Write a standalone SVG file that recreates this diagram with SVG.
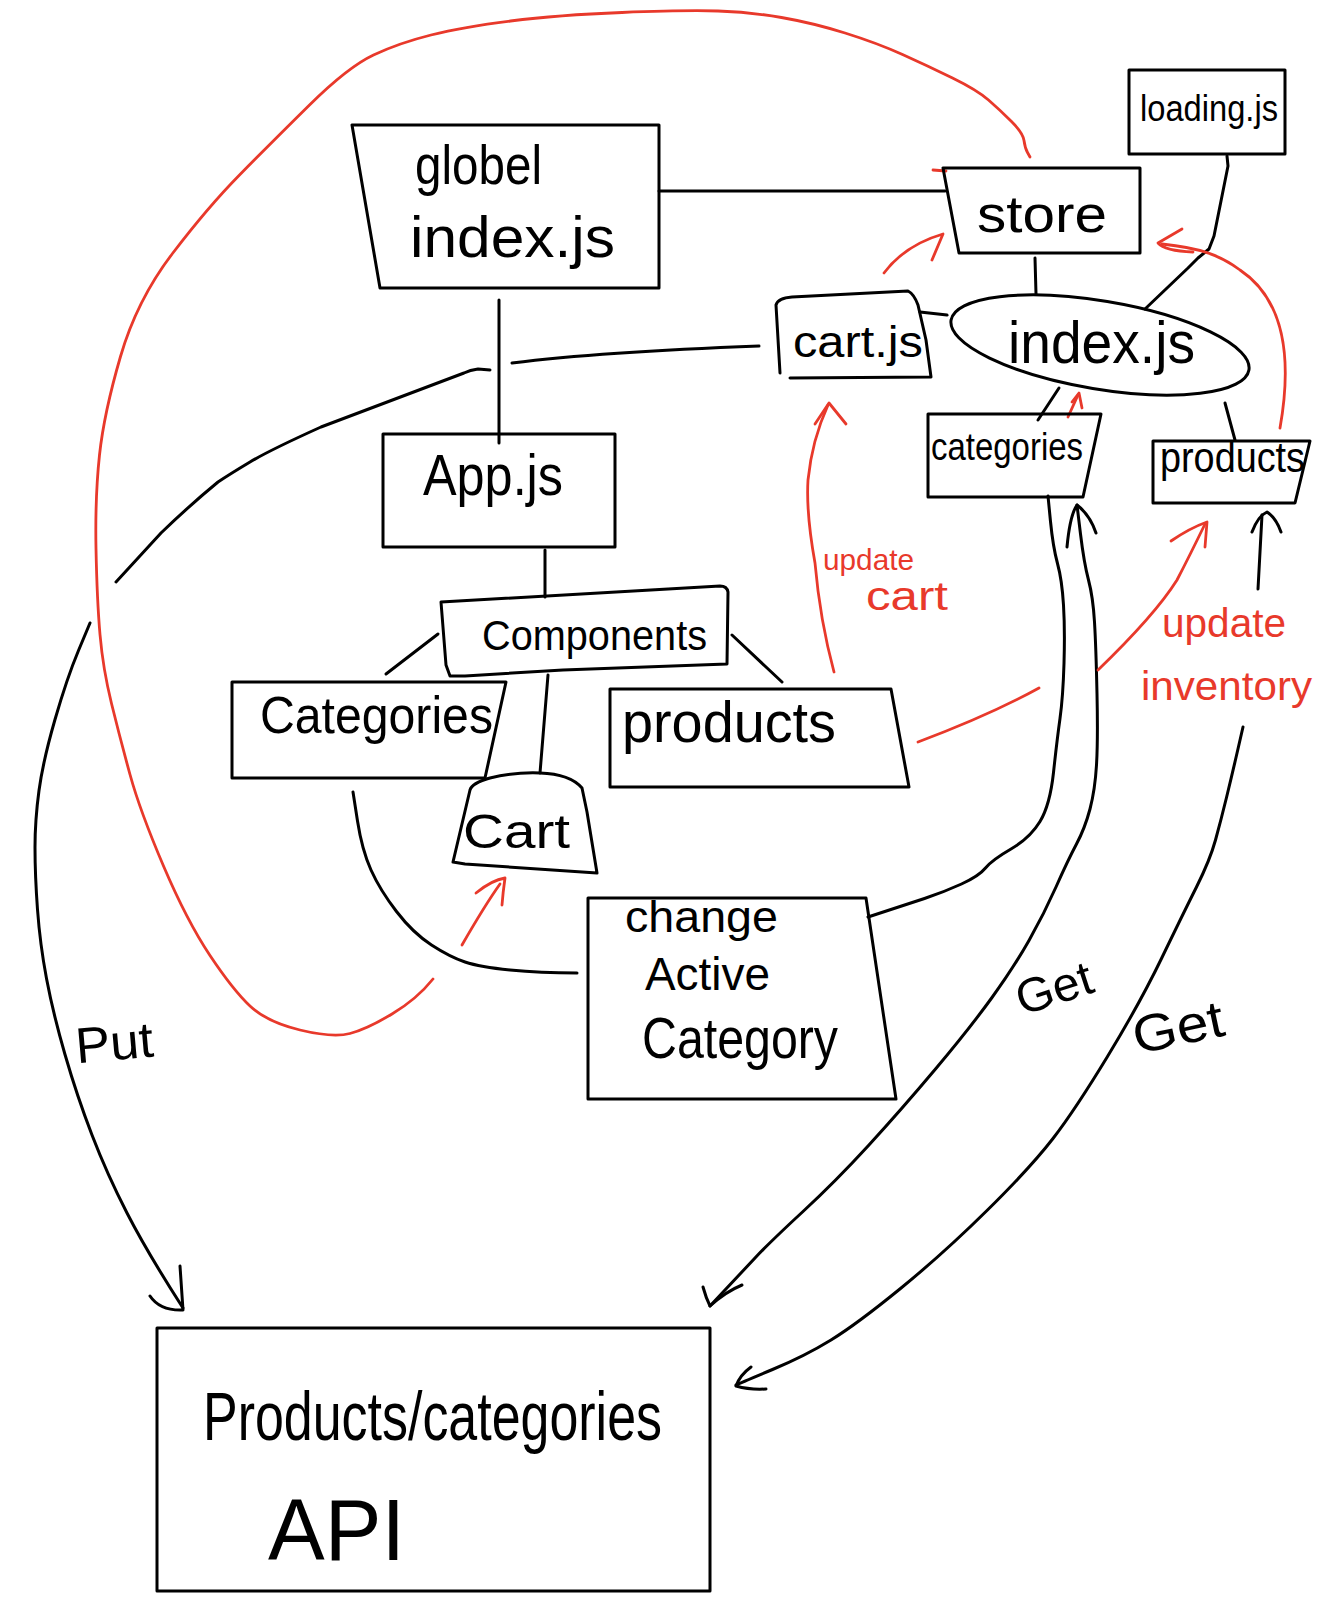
<svg xmlns="http://www.w3.org/2000/svg" width="1322" height="1619" viewBox="0 0 1322 1619">
<style>
.box{fill:none;stroke:#000;stroke-width:3;stroke-linejoin:round;stroke-linecap:round}
.ln{fill:none;stroke:#000;stroke-width:3;stroke-linejoin:round;stroke-linecap:round}
.rd{fill:none;stroke:#e8392b;stroke-width:2.8;stroke-linejoin:round;stroke-linecap:round}
.t{font-family:"Liberation Sans",Arial,sans-serif;fill:#000}
.tr{font-family:"Liberation Sans",Arial,sans-serif;fill:#e8392b}
</style>
<rect width="1322" height="1619" fill="#fff"/>
<g id="connectors">
<path class="ln" d="M659,191 L945,191"/>
<path class="ln" d="M499,300 L499,443"/>
<path class="ln" d="M545,550 L545,597"/>
<path class="ln" d="M438,634 L386,674"/>
<path class="ln" d="M732,635 L782,682"/>
<path class="ln" d="M548,675 L540,773"/>
<path class="ln" d="M1035,258 L1036,294"/>
<path class="ln" d="M1227,156 L1228,166 L1214,236 L1209,249 L1198,258 L1188,268 L1145,309"/>
<path class="ln" d="M920,312 L947,315"/>
<path class="ln" d="M1059,388 L1038,420"/>
<path class="ln" d="M1225,403 L1235,440"/>
<path class="ln" d="M512,363 Q600,352 759,346"/>
<path class="ln" d="M490,370 L478,369 Q470,370 464,373 L321,427 Q270,450 250,462 Q230,474 218,482 Q190,505 161,533 L116,582"/>
<path class="ln" d="M90,623 L78.5,650.5 Q67,678 55,719.5 Q43,761 39,790.5 Q35,820 35,847.5 Q35,875 37.5,909.5 Q40,944 46.5,978.5 Q53,1013 65,1054.5 Q77,1096 92,1135 Q107,1174 127,1213 Q147,1252 183,1308"/>
<path class="ln" d="M150,1296 Q160,1311 183,1310 L180,1266"/>
<path class="ln" d="M353,792 L357.5,821 Q362,850 371,870 Q380,890 396.5,911.5 Q413,933 431.5,945 Q450,957 465,962 Q480,967 510,970 Q540,973 577,973"/>
<path class="ln" d="M1048,496 L1050.5,521.5 Q1053,547 1057.5,563.5 Q1062,580 1063.5,605 Q1065,630 1064,663.5 Q1063,697 1060,718.5 Q1057,740 1053.5,772.5 Q1050,805 1040,821.5 Q1030,838 1011,849 Q992,860 985.5,868 Q979,876 961.5,884 Q944,892 924.5,898.5 Q905,905 868,917"/>
<path class="ln" d="M1077,505 L1080.5,534 Q1084,563 1088.5,580 Q1093,597 1094.5,622 Q1096,647 1097,693.5 Q1098,740 1096.5,765 Q1095,790 1090,809 Q1085,828 1076.5,844 Q1068,860 1056,887 Q1044,914 1029,940.5 Q1014,967 992,997.5 Q970,1028 935.5,1069 Q901,1110 868.5,1145.5 Q836,1181 803,1211.5 Q770,1242 755,1258 Q740,1274 710,1306"/>
<path class="ln" d="M1067,547 Q1070,515 1077,505 Q1090,515 1096,533"/>
<path class="ln" d="M703,1287 Q706,1298 710,1306 Q725,1292 742,1285"/>
<path class="ln" d="M1258,589 L1262,515"/>
<path class="ln" d="M1252,532 Q1258,516 1267,512 Q1276,518 1281,532"/>
<path class="ln" d="M1243,727 L1237.5,751 Q1232,775 1226.5,797.5 Q1221,820 1215.5,840 Q1210,860 1196.5,887 Q1183,914 1161.5,958.5 Q1140,1003 1107.5,1056.5 Q1075,1110 1053,1138.5 Q1031,1167 987.5,1210 Q944,1253 900.5,1288.5 Q857,1324 831,1340 Q805,1356 772.5,1369.5 Q740,1383 736,1385"/>
<path class="ln" d="M751,1367 Q740,1375 736,1386 Q750,1390 766,1389"/>
<path class="rd" d="M1030,157 L1027.5,152.5 Q1025,148 1024,140.5 Q1023,133 1011.5,121.5 Q1000,110 988.5,100 Q977,90 952.5,78 Q928,66 902.5,54.5 Q877,43 845,33 Q813,23 781.5,17.5 Q750,12 718,11 Q686,10 622,12.5 Q558,15 510.5,21 Q463,27 431,35 Q399,43 373.5,55 Q348,67 309.5,105 Q271,143 239.5,175 Q208,207 172.5,253.5 Q137,300 120.5,356.5 Q104,413 99.5,455 Q95,497 96,548.5 Q97,600 100,634.5 Q103,669 111.5,703.5 Q120,738 130,774.5 Q140,811 163.5,866 Q187,921 210,955.5 Q233,990 250,1006 Q267,1022 300,1030 Q333,1038 350,1033.5 Q367,1029 392,1014 Q417,999 433,979"/>
<path class="rd" d="M933,170 L946,171"/>
<path class="rd" d="M462,945 Q485,905 500,884"/>
<path class="rd" d="M476,893 Q492,880 505,878 Q503,892 502,905"/>
<path class="rd" d="M884,273 Q905,245 943,234 L932,260"/>
<path class="rd" d="M834,672 Q820,620 815,563 Q806,513 808,480 Q812,440 828,405"/>
<path class="rd" d="M815,424 L829,403 L846,424"/>
<path class="rd" d="M918,742 Q990,715 1039,688"/>
<path class="rd" d="M1098,670 Q1155,615 1177,580 Q1190,555 1205,524"/>
<path class="rd" d="M1171,541 Q1190,528 1207,522 L1205,547"/>
<path class="rd" d="M1280,428 C1292,360 1285,300 1240,270 C1220,255 1200,248 1162,244"/>
<path class="rd" d="M1182,229 L1158,243 Q1165,251 1193,252"/>
<path class="rd" d="M1068,417 L1078,395"/>
<path class="rd" d="M1072,402 L1079,393 L1082,408"/>
<g id="edge-labels">
<text class="t" x="75" y="1060" font-size="50" textLength="78" lengthAdjust="spacingAndGlyphs" transform="rotate(-5 114 1040)">Put</text>
<text class="t" x="1014" y="1005" font-size="48" textLength="78" lengthAdjust="spacingAndGlyphs" transform="rotate(-18 1052 985)">Get</text>
<text class="t" x="1131" y="1045" font-size="52" textLength="92" lengthAdjust="spacingAndGlyphs" transform="rotate(-12 1178 1022)">Get</text>
<text class="tr" x="823" y="570" font-size="30" textLength="91" lengthAdjust="spacingAndGlyphs">update</text>
<text class="tr" x="866" y="610" font-size="40" textLength="82" lengthAdjust="spacingAndGlyphs">cart</text>
<text class="tr" x="1162" y="637" font-size="40" textLength="124" lengthAdjust="spacingAndGlyphs">update</text>
<text class="tr" x="1141" y="700" font-size="40" textLength="171" lengthAdjust="spacingAndGlyphs">inventory</text>
</g>
</g>
<g id="node-global">
<path class="box" d="M352,125 L659,125 L659,288 L380,288 Z"/>
<text class="t" x="415" y="184" font-size="56" textLength="127" lengthAdjust="spacingAndGlyphs">globel</text>
<text class="t" x="410" y="257" font-size="58" textLength="205" lengthAdjust="spacingAndGlyphs">index.js</text>
</g>
<g id="node-store">
<path class="box" d="M943,168 L1140,168 L1140,253 L959,253 Z"/>
<text class="t" x="977" y="232" font-size="52" textLength="130" lengthAdjust="spacingAndGlyphs">store</text>
</g>
<g id="node-loading">
<rect class="box" x="1129" y="70" width="156" height="84"/>
<text class="t" x="1140" y="121" font-size="36" textLength="138" lengthAdjust="spacingAndGlyphs">loading.js</text>
</g>
<g id="node-index">
<ellipse class="box" cx="1100" cy="345" rx="151" ry="44" transform="rotate(9.5 1100 345)"/>
<text class="t" x="1008" y="363" font-size="60" textLength="187" lengthAdjust="spacingAndGlyphs">index.js</text>
</g>
<g id="node-cartjs">
<path class="box" d="M780,373 L776,305 Q778,298 792,297 L908,291 Q914,294 918,305 L926,340 L931,377 L790,378"/>
<text class="t" x="793" y="357" font-size="44" textLength="130" lengthAdjust="spacingAndGlyphs">cart.js</text>
</g>
<g id="node-categories-store">
<path class="box" d="M928,414 L1101,414 L1083,497 L928,497 Z"/>
<text class="t" x="931" y="460" font-size="38" textLength="152" lengthAdjust="spacingAndGlyphs">categories</text>
</g>
<g id="node-products-store">
<path class="box" d="M1153,441 L1310,441 L1295,503 L1153,503 Z"/>
<text class="t" x="1160" y="472" font-size="42" textLength="145" lengthAdjust="spacingAndGlyphs">products</text>
</g>
<g id="node-app">
<rect class="box" x="383" y="434" width="232" height="113"/>
<text class="t" x="423" y="495" font-size="58" textLength="140" lengthAdjust="spacingAndGlyphs">App.js</text>
</g>
<g id="node-components">
<path class="box" d="M441,602 L446,665 L450,676 L465,676 L563,670 L727,664 L728,592 Q727,586 720,586 L441,602 Z"/>
<text class="t" x="482" y="650" font-size="42" textLength="225" lengthAdjust="spacingAndGlyphs">Components</text>
</g>
<g id="node-categories">
<path class="box" d="M232,682 L506,682 L485,778 L232,778 Z"/>
<text class="t" x="260" y="733" font-size="52" textLength="233" lengthAdjust="spacingAndGlyphs">Categories</text>
</g>
<g id="node-cart">
<path class="box" d="M453,862 L470,790 Q472,783 490,778 Q515,772 540,773 Q570,774 582,788 L587,812 L597,873 L465,864 Z"/>
<text class="t" x="463" y="848" font-size="48" textLength="107" lengthAdjust="spacingAndGlyphs">Cart</text>
</g>
<g id="node-products">
<path class="box" d="M610,689 L891,689 L909,787 L610,787 Z"/>
<text class="t" x="622" y="742" font-size="58" textLength="214" lengthAdjust="spacingAndGlyphs">products</text>
</g>
<g id="node-change">
<path class="box" d="M588,898 L866,898 L896,1099 L588,1099 Z"/>
<text class="t" x="625" y="932" font-size="44" textLength="153" lengthAdjust="spacingAndGlyphs">change</text>
<text class="t" x="645" y="990" font-size="46" textLength="125" lengthAdjust="spacingAndGlyphs">Active</text>
<text class="t" x="642" y="1058" font-size="58" textLength="196" lengthAdjust="spacingAndGlyphs">Category</text>
</g>
<g id="node-api">
<rect class="box" x="157" y="1328" width="553" height="263"/>
<text class="t" x="203" y="1440" font-size="68" textLength="459" lengthAdjust="spacingAndGlyphs">Products/categories</text>
<text class="t" x="268" y="1560" font-size="88" textLength="137" lengthAdjust="spacingAndGlyphs">API</text>
</g>
</svg>
